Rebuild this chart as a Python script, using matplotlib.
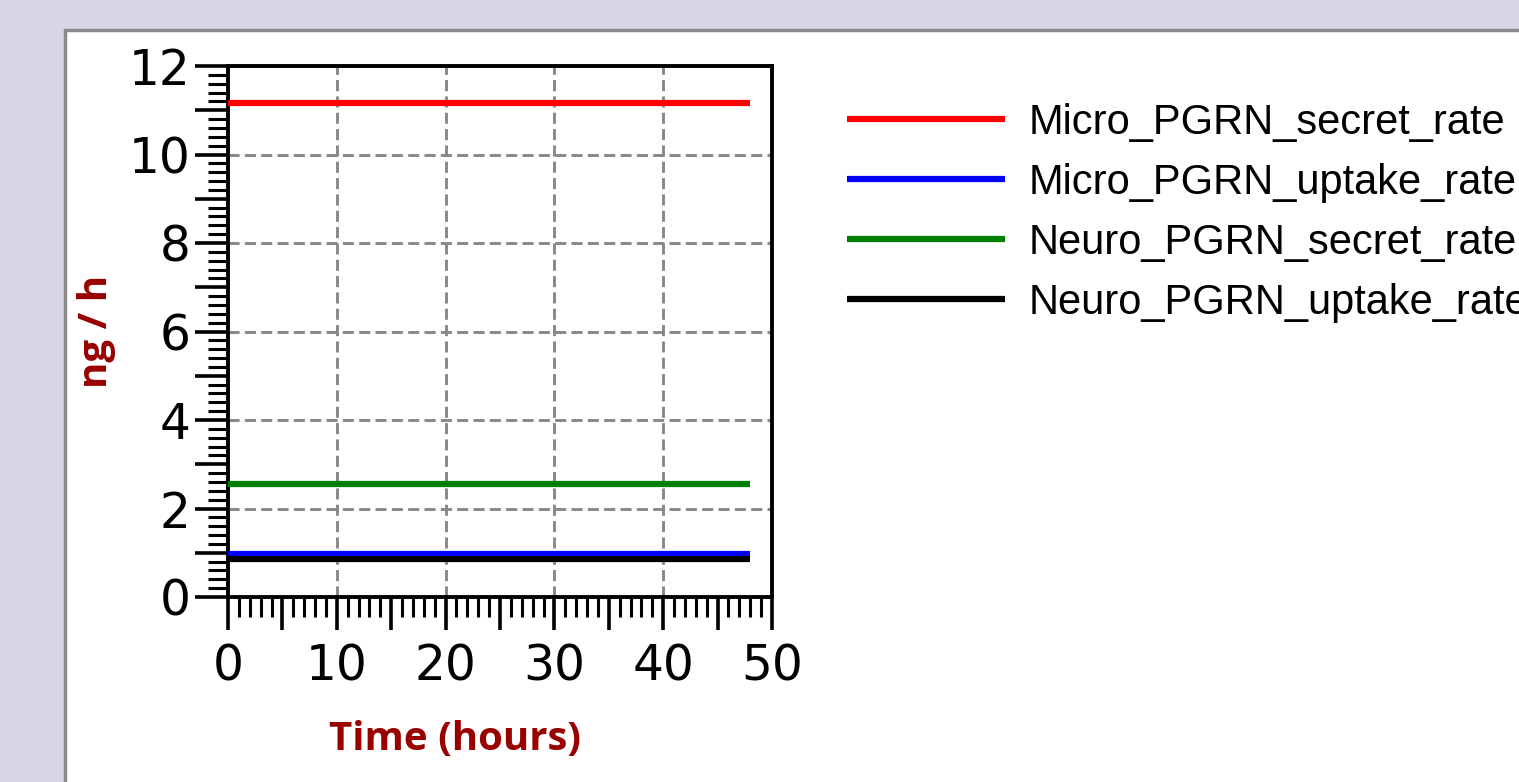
import numpy as np
import matplotlib
matplotlib.use("Agg")
import matplotlib.pyplot as plt
from matplotlib.patches import Rectangle
from matplotlib.ticker import MultipleLocator, FuncFormatter

# data (rates stay constant over the run)
time_h = [0, 48]
series_names = ["Micro_PGRN_secret_rate", "Micro_PGRN_uptake_rate",
                "Neuro_PGRN_secret_rate", "Neuro_PGRN_uptake_rate"]
series_values = [[11.16, 11.16], [0.98, 0.98], [2.55, 2.55], [0.87, 0.87]]
series_colors = ["#ff0000", "#0000ff", "#008000", "#000000"]

W, H = 1519, 782
fig = plt.figure(figsize=(W / 100, H / 100), dpi=100)
fig.patch.set_facecolor("#d8d5e4")

# white panel behind the chart
panel = Rectangle((65 / W, -0.1), 1.2, (H - 30) / H + 0.1, transform=fig.transFigure,
                  facecolor="white", edgecolor="#8a8a8a", linewidth=2.5, zorder=-5)
fig.patches.append(panel)

ax = fig.add_axes([228 / W, 1 - 597 / H, (772 - 228) / W, (597 - 66) / H])
ax.set_facecolor("white")

for name, vals, col in zip(series_names, series_values, series_colors):
    ax.plot(time_h, vals, color=col, lw=4.5, label=name, solid_capstyle="butt", zorder=3)

ax.set_xlim(0, 50)
ax.set_ylim(0, 12)

# grid only at labelled values
for yv in range(2, 12, 2):
    ax.axhline(yv, color="#888888", lw=2.1, ls=(0, (3.8, 1.8)), zorder=1)
for xv in range(10, 50, 10):
    ax.axvline(xv, color="#888888", lw=2.1, ls=(0, (3.8, 1.8)), zorder=1)

ax.xaxis.set_major_locator(MultipleLocator(5))
ax.xaxis.set_minor_locator(MultipleLocator(1))
ax.xaxis.set_major_formatter(FuncFormatter(lambda v, p: f"{v:.0f}" if v % 10 == 0 else ""))
ax.yaxis.set_major_locator(MultipleLocator(1))
ax.yaxis.set_minor_locator(MultipleLocator(0.2))
ax.yaxis.set_major_formatter(FuncFormatter(lambda v, p: f"{v:.0f}" if v % 2 == 0 else ""))

ax.tick_params(which="major", direction="out", length=24, width=2.6, labelsize=35, pad=3)
ax.tick_params(which="minor", direction="out", length=14.5, width=2.2)
ax.tick_params(axis="x", which="major", pad=9)
for sp in ax.spines.values():
    sp.set_linewidth(2.8)

ax.set_xlabel("Time (hours)", fontsize=29, fontweight="bold", color="#990000",
              family="Open Sans", va="center", ha="center")
ax.set_ylabel("ng / h", fontsize=29, fontweight="bold", color="#990000",
              family="Open Sans", va="center", ha="center")
ax.xaxis.set_label_coords(0.417, -0.268)
ax.yaxis.set_label_coords(-0.241, 0.501)

handles, labels = ax.get_legend_handles_labels()
leg = fig.legend(handles, labels, loc="upper left", bbox_to_anchor=(847 / W, 1 - 103 / H),
                 frameon=False, prop={"family": "Liberation Sans", "size": 30},
                 handlelength=3.8, handletextpad=0.55, labelspacing=0.48, borderpad=0,
                 borderaxespad=0)
for ln in leg.get_lines():
    ln.set_linewidth(4.5)

fig.savefig("out.png", dpi=100, facecolor=fig.get_facecolor())
